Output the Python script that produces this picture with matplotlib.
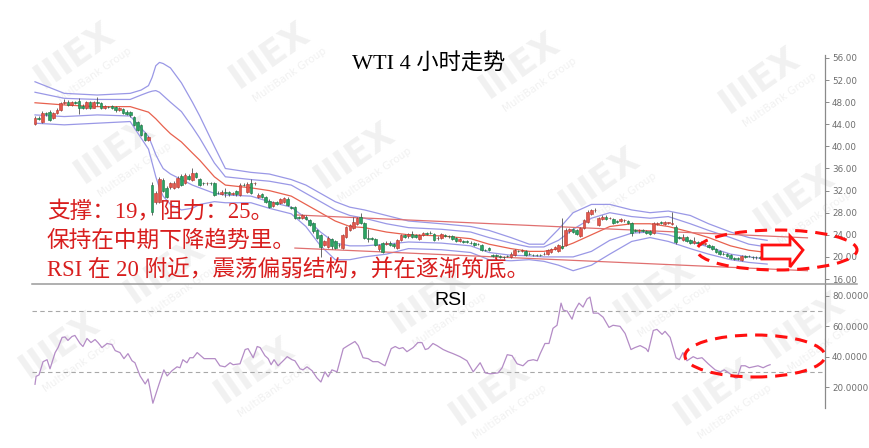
import numpy as np
import matplotlib

matplotlib.use("Agg")
import matplotlib.pyplot as plt
from matplotlib.lines import Line2D
from matplotlib.patches import Ellipse, Polygon


# ---- candle data (4h bars) ----
opens = [44.1, 45.2, 44.4, 46.0, 46.3, 45.2, 46.0, 46.6, 47.9, 48.1,
         47.5, 48.0, 48.3, 47.4, 47.0, 48.0, 47.0, 48.0, 47.8, 46.9,
         47.2, 47.3, 47.1, 46.5, 46.8, 46.3, 46.2, 45.3, 44.4, 43.9,
         42.4, 41.2, 33.0, 30.0, 30.0, 34.0, 32.5, 32.6, 32.5, 32.7,
         34.7, 33.4, 34.7, 34.0, 35.1, 34.1, 33.4, 33.3, 33.4, 33.4,
         31.6, 31.4, 31.7, 31.8, 31.4, 31.9, 31.2, 33.1, 31.8, 33.4,
         33.3, 30.8, 31.3, 30.8, 30.2, 29.2, 30.0, 29.8, 30.0, 30.5,
         29.0, 29.0, 27.2, 27.0, 27.3, 26.7, 26.2, 24.9, 24.0, 22.2,
         21.8, 23.2, 22.8, 22.2, 21.6, 23.6, 24.8, 25.2, 26.0, 27.2,
         26.2, 23.4, 23.4, 23.3, 21.5, 22.5, 22.3, 22.6, 22.4, 21.7,
         23.1, 24.0, 23.7, 24.1, 24.0, 23.3, 24.0, 24.3, 24.4, 24.2,
         23.4, 23.5, 23.9, 23.8, 23.7, 23.4, 22.9, 22.8, 22.8, 22.6,
         22.5, 22.4, 22.2, 21.3, 21.6, 20.3, 20.3, 20.1, 20.0, 20.2,
         20.0, 20.4, 21.1, 21.1, 21.0, 20.6, 20.4, 20.4, 20.4, 20.5,
         20.5, 20.9, 21.4, 21.0, 22.0, 22.2, 24.6, 25.0, 24.8, 23.8,
         25.3, 26.4, 27.8, 28.4, 25.8, 26.8, 27.3, 27.0, 26.9, 26.5,
         26.5, 26.6, 26.5, 26.2, 24.8, 24.6, 24.8, 24.7, 24.6, 24.4,
         26.0, 26.3, 25.9, 26.2, 26.0, 25.5, 23.6, 23.0, 23.6, 23.0,
         22.5, 22.7, 22.6, 22.4, 22.2, 21.9, 21.5, 21.0, 20.6, 20.5,
         20.4, 19.8, 19.8, 19.5, 20.1, 20.2, 20.0, 20.0, 19.9, 19.9, 20.1]
highs = [45.5, 45.5, 46.4, 46.3, 46.6, 46.3, 46.9, 48.1, 48.6, 48.4,
         48.3, 48.2, 48.8, 47.6, 48.2, 48.2, 48.3, 48.9, 48.0, 47.5,
         47.4, 47.5, 47.3, 47.1, 47.0, 46.5, 46.4, 45.5, 44.6, 44.1,
         42.6, 41.9, 33.6, 32.0, 34.5, 34.3, 32.8, 33.6, 33.8, 34.6,
         35.0, 35.2, 35.0, 36.1, 35.3, 34.3, 33.6, 33.6, 33.6, 33.6,
         31.9, 32.1, 32.4, 32.0, 31.8, 32.1, 33.3, 33.4, 33.5, 34.1,
         33.6, 31.5, 31.5, 31.0, 30.4, 30.2, 30.2, 30.6, 30.9, 30.8,
         29.2, 29.2, 27.4, 27.8, 27.5, 26.9, 26.4, 25.1, 24.2, 23.1,
         23.7, 23.4, 23.0, 22.6, 24.2, 25.6, 26.0, 27.2, 27.3, 28.0,
         26.4, 25.0, 23.6, 23.5, 22.3, 22.7, 22.8, 22.8, 22.6, 23.3,
         24.2, 24.2, 24.4, 24.6, 24.2, 24.2, 24.5, 24.5, 24.6, 24.4,
         23.7, 24.4, 24.1, 24.0, 23.9, 23.6, 23.4, 23.0, 23.0, 22.8,
         22.7, 22.6, 22.4, 21.5, 21.8, 20.5, 20.5, 20.3, 20.2, 20.4,
         20.8, 21.5, 21.3, 21.4, 21.2, 20.8, 20.6, 20.6, 20.6, 20.8,
         21.4, 21.7, 22.0, 22.4, 27.0, 25.2, 25.3, 25.2, 25.0, 25.5,
         26.9, 28.4, 28.6, 28.9, 27.2, 27.5, 27.5, 27.3, 27.1, 26.7,
         27.1, 26.9, 26.7, 26.4, 25.0, 25.1, 25.0, 24.9, 24.8, 26.4,
         26.4, 26.5, 26.5, 26.4, 28.2, 25.7, 23.8, 24.2, 23.8, 23.2,
         23.6, 22.9, 22.8, 22.6, 22.4, 22.1, 21.7, 21.2, 20.8, 20.7,
         20.6, 20.0, 20.0, 20.4, 20.3, 20.4, 20.2, 20.2, 20.1, 20.1, 20.3]
lows = [43.8, 44.8, 44.2, 45.5, 44.6, 45.0, 45.8, 46.4, 47.6, 47.3,
        47.3, 47.7, 45.9, 46.8, 46.8, 46.8, 46.9, 47.3, 46.8, 46.7,
        46.9, 46.7, 46.3, 46.4, 45.8, 45.6, 45.4, 43.7, 42.8, 41.8,
        41.0, 40.9, 27.6, 29.5, 29.8, 31.8, 30.6, 32.3, 32.2, 32.5,
        32.8, 33.2, 33.9, 33.8, 34.2, 32.8, 33.1, 33.1, 33.1, 31.0,
        31.3, 31.2, 30.9, 31.1, 31.2, 31.1, 31.0, 32.8, 31.6, 31.4,
        33.1, 30.6, 30.6, 29.8, 28.8, 29.0, 29.4, 29.6, 29.8, 29.2,
        28.7, 26.9, 26.8, 26.8, 26.7, 25.6, 24.4, 23.3, 20.0, 22.0,
        21.6, 21.5, 21.4, 21.8, 21.4, 23.4, 24.6, 25.0, 25.8, 26.0,
        23.3, 22.7, 23.0, 22.0, 21.0, 20.7, 22.1, 22.0, 21.7, 21.5,
        22.9, 23.4, 23.5, 23.4, 23.4, 23.1, 23.8, 24.0, 24.1, 22.9,
        23.1, 23.3, 23.6, 23.5, 23.1, 22.7, 22.7, 22.5, 22.5, 22.3,
        22.0, 22.1, 21.1, 21.0, 21.0, 20.0, 20.0, 19.8, 19.7, 19.9,
        19.8, 20.2, 20.8, 20.9, 20.2, 20.3, 20.1, 20.1, 20.1, 20.3,
        20.3, 20.7, 21.2, 20.8, 21.4, 22.0, 24.4, 24.3, 24.0, 23.6,
        25.1, 26.2, 27.6, 28.2, 25.6, 26.6, 26.7, 26.8, 26.0, 26.2,
        26.3, 26.4, 26.0, 23.8, 24.5, 24.4, 24.5, 24.1, 23.9, 24.2,
        25.8, 26.0, 25.7, 26.0, 25.8, 22.3, 23.3, 22.8, 22.7, 22.4,
        22.3, 22.4, 22.2, 22.2, 21.6, 21.3, 20.7, 20.3, 20.3, 20.0,
        19.6, 19.5, 19.5, 19.3, 19.8, 19.9, 19.7, 19.7, 19.6, 19.6, 19.7]
closes = [45.2, 45.0, 46.1, 45.8, 44.8, 46.0, 46.6, 47.8, 48.0, 47.5,
          48.0, 47.9, 47.0, 47.0, 48.0, 47.0, 48.1, 47.9, 47.0, 47.3,
          47.1, 46.9, 46.5, 46.9, 46.0, 45.9, 45.6, 43.9, 43.0, 42.0,
          41.2, 41.7, 28.2, 31.6, 34.1, 32.0, 30.9, 33.3, 33.4, 34.3,
          33.0, 34.9, 34.1, 35.2, 34.4, 33.0, 33.3, 33.4, 33.3, 31.2,
          31.5, 31.8, 31.6, 31.3, 31.6, 31.3, 33.0, 33.0, 33.2, 31.6,
          33.4, 31.2, 30.8, 30.0, 29.0, 30.0, 29.6, 30.4, 30.7, 29.4,
          28.9, 27.1, 27.0, 27.6, 26.9, 25.8, 24.6, 23.5, 21.8, 22.9,
          23.5, 22.0, 21.6, 22.1, 24.0, 25.4, 25.8, 26.4, 27.0, 26.2,
          23.5, 23.3, 23.3, 22.2, 22.1, 20.9, 22.6, 22.2, 21.9, 23.1,
          24.0, 23.6, 24.2, 23.6, 23.6, 24.0, 24.3, 24.2, 24.3, 23.1,
          23.4, 24.2, 23.8, 23.7, 23.3, 22.9, 23.2, 22.7, 22.7, 22.5,
          22.2, 22.3, 21.3, 21.2, 21.2, 20.2, 20.2, 20.0, 19.9, 20.1,
          20.6, 21.3, 21.0, 21.2, 20.4, 20.5, 20.3, 20.3, 20.3, 20.6,
          21.2, 21.5, 21.8, 22.2, 21.6, 24.9, 25.1, 24.5, 24.2, 25.3,
          26.7, 28.2, 28.4, 28.5, 27.0, 27.3, 26.9, 27.1, 26.2, 26.4,
          26.9, 26.7, 26.2, 24.4, 24.7, 24.9, 24.7, 24.3, 24.1, 26.2,
          26.2, 26.2, 26.3, 26.2, 26.2, 22.7, 23.5, 23.6, 22.9, 22.6,
          22.8, 22.6, 22.4, 22.4, 21.8, 21.5, 20.9, 20.5, 20.5, 20.2,
          19.8, 19.7, 19.7, 20.2, 20.0, 20.1, 19.9, 19.9, 19.8, 19.8, 19.9]

band_bars = [0, 8, 17, 26, 29, 31, 32, 33, 34, 35, 37, 40, 43, 45, 49, 52, 59, 64, 70, 74,
             78, 82, 86, 90, 96, 102, 111, 119, 124, 130, 135, 139, 143, 147, 152, 157, 163,
             168, 173, 179, 184, 190, 195, 200]
upper_outer = [51.7, 49.6, 49.3, 49.6, 50.2, 51.0, 52.5, 54.6, 55.2, 55.0, 54.2, 51.5, 48.0,
               45.5, 40.0, 36.0, 35.3, 35.0, 34.0, 33.0, 31.5, 30.0, 29.0, 28.5, 27.5, 26.5,
               26.0, 25.5, 24.8, 23.5, 22.3, 22.3, 25.0, 28.0, 29.5, 29.5, 28.5, 28.0, 28.3,
               27.5, 26.0, 24.5, 23.5, 23.0]
upper_inner = [49.8, 48.7, 48.5, 48.5, 49.3, 49.8, 50.0, 50.1, 49.8, 49.2, 48.0, 46.3, 43.5,
               41.5, 37.0, 34.5, 34.0, 33.7, 33.0, 31.5, 30.0, 28.5, 27.5, 27.0, 26.0, 25.3,
               25.0, 24.5, 23.5, 22.5, 21.8, 21.8, 23.0, 25.0, 27.0, 28.0, 27.3, 27.0, 27.3,
               26.0, 24.8, 23.5, 22.3, 21.8]
middle = [47.9, 47.5, 47.2, 47.2, 46.6, 46.2, 45.6, 45.0, 44.3, 43.6, 42.3, 40.8, 38.8, 37.5,
          34.5, 33.0, 32.5, 32.0, 31.0, 29.5, 28.0, 26.5, 25.5, 25.3, 24.5, 24.0, 23.8, 23.3,
          22.3, 21.5, 21.0, 21.0, 21.5, 22.5, 24.0, 25.5, 26.0, 26.0, 25.5, 24.5, 23.5, 22.0,
          21.2, 20.8]
lower_inner = [45.7, 45.4, 45.7, 45.5, 43.3, 41.8, 40.2, 38.5, 37.2, 36.0, 35.0, 34.0, 33.0,
               32.5, 31.5, 31.2, 31.0, 30.0, 29.0, 27.0, 24.5, 22.5, 22.0, 22.0, 22.3, 22.7,
               22.5, 22.0, 20.8, 20.3, 20.2, 20.0, 20.0, 20.0, 21.0, 23.0, 24.3, 24.5, 24.0,
               22.8, 21.8, 20.5, 20.0, 19.6]
lower_outer = [44.2, 43.9, 44.2, 44.5, 41.5, 39.5, 37.0, 34.5, 32.5, 31.0, 29.5, 28.5, 28.8,
               29.5, 30.0, 29.8, 29.8, 28.8, 27.8, 25.5, 22.0, 19.5, 19.5, 20.0, 20.5, 21.5,
               21.3, 20.8, 19.5, 19.3, 19.5, 19.2, 18.5, 17.5, 18.5, 20.5, 22.8, 23.5, 22.8,
               21.5, 20.5, 19.5, 19.0, 18.7]

# ---- channel lines ----
trend_bars = [71, 211]
trend_upper = [27.6, 23.45]
trend_lower = [21.6, 17.5]

# ---- RSI ----
rsi_bars = [0, 0.3, 1.1, 2.2, 3.3, 4.1, 5.5, 6.3, 7.4, 8.2, 9.0, 10.1, 10.9, 12.3, 13.1, 14.2,
            15.3, 16.4, 17.2, 18.3, 19.7, 21.0, 21.9, 23.2, 24.3, 25.4, 26.5, 27.3, 28.7, 30.1,
            30.9, 32.2, 33.9, 35.2, 36.1, 37.4, 38.8, 39.6, 40.4, 41.5, 42.3, 43.2, 44.3, 46.2,
            49.2, 50.5, 51.9, 53.3, 54.1, 56.0, 57.4, 58.2, 59.6, 60.7, 61.5, 62.8, 63.7, 64.5,
            65.3, 66.4, 67.8, 68.9, 70.2, 71.0, 72.4, 73.2, 74.3, 75.7, 77.0, 78.1, 79.2, 80.1,
            81.1, 82.5, 84.2, 85.5, 87.4, 88.3, 89.6, 91.0, 92.3, 93.7, 95.6, 97.3, 98.4, 99.5,
            100.5, 101.6, 103.3, 104.6, 105.7, 106.6, 107.4, 108.7, 109.8, 111.5, 112.8, 114.2,
            116.1, 118.0, 119.7, 121.6, 123.0, 124.3, 126.5, 127.6, 129.0, 130.3, 131.7, 133.3,
            134.7, 136.1, 137.2, 138.0, 139.3, 140.4, 141.5, 142.6, 143.7, 144.3, 145.4, 146.7,
            147.5, 148.6, 149.7, 150.8, 151.6, 152.5, 153.8, 155.2, 156.8, 157.9, 159.8, 161.2,
            162.8, 163.9, 165.3, 166.9, 167.5, 168.9, 169.9, 171.3, 172.1, 173.5, 175.1, 176.0,
            177.0, 178.1, 179.8, 180.9, 182.2, 183.9, 185.8, 187.2, 188.3, 189.9, 191.3, 191.8,
            192.9, 194.0, 195.1, 196.2, 197.5, 198.9, 200.0, 200.8]
rsi_values = [21.8, 27, 28, 36.7, 38, 32, 42.7, 46, 52.7, 53, 50.7, 53.3, 54, 48.7, 46.7, 52,
              49.3, 51.3, 49.3, 46, 48.7, 48, 44, 42.7, 38.7, 42, 37.3, 36, 27.3, 22,
              25.3, 9.3, 22, 31.3, 27.3, 30.7, 33.3, 32.7, 38, 36, 39.3, 39.3, 42.7, 38.7,
              38.7, 34, 33.3, 36, 34.7, 35.3, 44.7, 45.3, 39.3, 46.7, 46, 40.7, 38.7, 34.7,
              38, 34, 37.3, 40, 38, 37.3, 32, 31.3, 33.3, 30.7, 26, 23.3, 30, 26.7,
              31.3, 30, 45.3, 47.3, 50, 47.3, 39.3, 38.7, 36.7, 36.7, 34, 45.3, 46.7, 45.3,
              46, 43.3, 46, 49.3, 49.3, 44.7, 45.3, 48.7, 47.3, 44.7, 43.3, 42,
              40, 37.3, 30, 36, 29.3, 28.7, 29.3, 32.7, 41.3, 40.7, 35.3, 34,
              37.3, 38, 37.3, 42, 48.7, 48.7, 58.7, 60.7, 75.3, 70.7, 70, 64.7,
              70.7, 75.3, 72.7, 78, 79.3, 68.7, 68.7, 66, 59.3, 60.7, 60, 55.3,
              44.7, 46, 47.3, 45.3, 43.3, 57.3, 58, 54.7, 56.7, 52.7, 39.3, 38,
              42.7, 37.3, 40, 38.7, 39.3, 35.3, 31.3, 30, 31.3, 28.7, 26, 26,
              34, 34, 32.7, 33.3, 34, 32.7, 34, 34.7]

price_ticks = [16, 20, 24, 28, 32, 36, 40, 44, 48, 52, 56]
rsi_ticks = [20, 40, 60, 80]
rsi_levels = [70, 30]

title = "WTI 4 小时走势"
notes = ["支撑：19，阻力：25。",
         "保持在中期下降趋势里。",
         "RSI 在 20 附近，震荡偏弱结构，并在逐渐筑底。"]

W, H = 869, 448


def fx(px):
    return px / W


def fy(py):
    return 1 - py / H


fig = plt.figure(figsize=(W / 100, H / 100), dpi=100)
fig.patch.set_facecolor("white")

# faint watermarks
wm_centers = [(75, 55), (270, 55), (520, 65), (760, 80), (115, 150), (355, 155), (600, 180),
              (795, 198), (165, 270), (430, 300), (655, 290), (60, 345), (255, 370),
              (490, 392), (715, 392), (805, 325)]
for cx, cy in wm_centers:
    fig.text(fx(cx), fy(cy), "IIIEX", fontsize=25, fontweight="bold", color="#f1f1f1",
             rotation=35, ha="center", va="center", zorder=-5)
    fig.text(fx(cx + 20), fy(cy + 20), "MultiBank Group", fontsize=7.5, color="#f1f1f1",
             rotation=35, ha="center", va="center", zorder=-5)

ax = fig.add_axes([fx(32), fy(284), fx(825) - fx(32), fy(55) - fy(284)])
ax2 = fig.add_axes([fx(32), fy(408), fx(825) - fx(32), fy(284) - fy(408)], sharex=ax)
for a in (ax, ax2):
    a.set_facecolor("none")
    for s in ("top", "left", "bottom"):
        a.spines[s].set_visible(False)
    a.spines["right"].set_color("#8a8a8a")
    a.spines["right"].set_linewidth(0.9)
    a.yaxis.tick_right()
    a.tick_params(axis="y", length=3, width=0.7, color="#8a8a8a", labelsize=6.3,
                  labelcolor="#6e6e6e", pad=2)
    a.tick_params(axis="x", bottom=False, labelbottom=False)

o = np.array(opens)
h = np.array(highs)
l = np.array(lows)
c = np.array(closes)
x = np.arange(len(c))
up = c >= o
body_low = np.minimum(o, c)
body_h = np.maximum(np.abs(c - o), 0.09)

# bands and channel
band_kw = dict(color="#9a98e6", lw=0.9, zorder=2)
ax.plot(band_bars, upper_outer, **band_kw)
ax.plot(band_bars, upper_inner, **band_kw)
ax.plot(band_bars, lower_inner, **band_kw)
ax.plot(band_bars, lower_outer, **band_kw)
ax.plot(band_bars, middle, color="#e8614e", lw=0.9, zorder=2)
ax.plot(trend_bars, trend_upper, color="#e07070", lw=0.9, zorder=2)
ax.plot(trend_bars, trend_lower, color="#e07070", lw=0.9, zorder=2)

# candles
ax.vlines(x, l, h, color="#505050", lw=0.6, zorder=3)
ax.bar(x[up], body_h[up], bottom=body_low[up], width=0.72, color="#e2574c",
       edgecolor="#b8372e", linewidth=0.4, zorder=4)
ax.bar(x[~up], body_h[~up], bottom=body_low[~up], width=0.72, color="#2aa363",
       edgecolor="#17753f", linewidth=0.4, zorder=4)

ax.set_xlim(-0.82, 215.8)
ax.set_ylim(56 - (284 - 58) / 5.525, 56 + 3 / 5.525)
ax.set_yticks(price_ticks)
ax.set_yticklabels([f"{v:.2f}" for v in price_ticks])

# RSI panel
ax2.plot(rsi_bars, rsi_values, color="#b48cc6", lw=0.9, zorder=3)
for lev in rsi_levels:
    ax2.axhline(lev, color="#a8a8a8", lw=0.8, ls=(0, (4, 3)), zorder=1)
ax2.set_ylim(20 - (408 - 387) / 1.517, 80 + (296 - 284) / 1.517)
ax2.set_yticks(rsi_ticks)
ax2.set_yticklabels([f"{v:.4f}" for v in rsi_ticks])
ax2.text(0.5075, 0.87, "RSI", transform=ax2.transAxes, fontsize=14,
         family=["Liberation Sans"], color="black", ha="left", va="center")

# separator between panels
fig.add_artist(Line2D([fx(32), fx(857)], [fy(284), fy(284)], color="#9a9a9a", lw=1.1))

# title and notes
cjk_serif = ["Liberation Serif", "Noto Sans CJK SC"]
fig.text(fx(429), fy(64), title, fontsize=16, family=cjk_serif, ha="center", va="center")
for i, line in enumerate(notes):
    fig.text(fx(47), fy(212 + 29 * i), line, fontsize=16.3, family=cjk_serif,
             color="#d81e1e", ha="left", va="center")

# highlight ellipses and arrow
fig.add_artist(Ellipse((fx(777), fy(250)), fx(160), 40 / H, fill=False, edgecolor="#ff1010",
                       lw=2.2, ls=(0, (4, 2.6))))
fig.add_artist(Ellipse((fx(755), fy(356)), fx(140), 42 / H, fill=False, edgecolor="#ff1010",
                       lw=2.2, ls=(0, (4, 2.6))))
arrow_px = [(762, 245), (790, 245), (790, 236), (803, 250), (790, 267), (790, 259), (762, 259)]
fig.add_artist(Polygon([(fx(px), fy(py)) for px, py in arrow_px], closed=True,
                       facecolor="white", edgecolor="#ff1010", lw=2.0))

fig.savefig("out.png", dpi=100)
